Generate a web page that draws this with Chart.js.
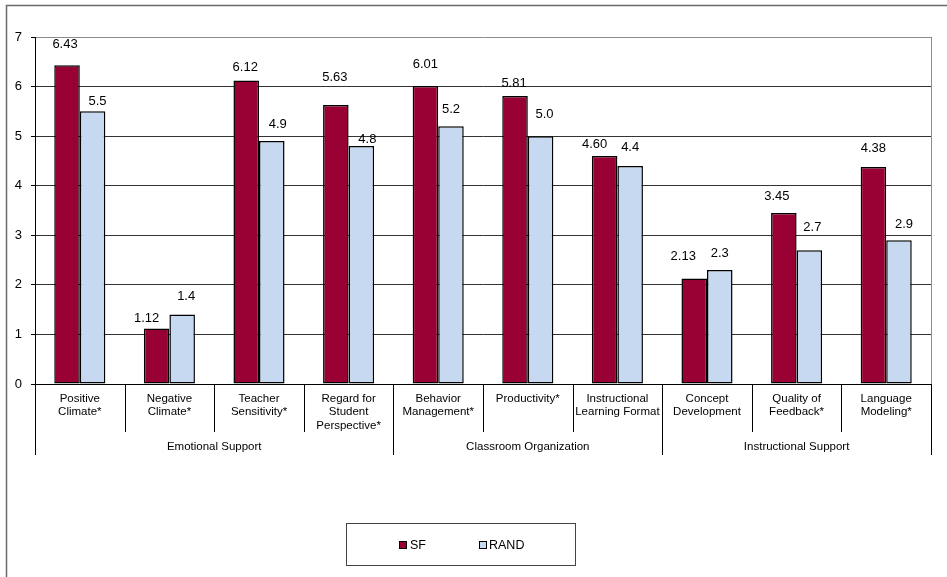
<!DOCTYPE html>
<html>
<head>
<meta charset="utf-8">
<script src="https://cdn.jsdelivr.net/npm/chart.js@4/dist/chart.umd.min.js"></script>
<style>
  html, body { margin: 0; padding: 0; background: #fff; }
  #wrap { position: relative; width: 947px; height: 577px; }
</style>
</head>
<body>
<div id="wrap"><canvas id="chart" width="947" height="577"></canvas></div>
<script>
// CLASS domain scores, SF vs. RAND
const categoryLines = [
  ['Positive', 'Climate*'],
  ['Negative', 'Climate*'],
  ['Teacher', 'Sensitivity*'],
  ['Regard for', 'Student', 'Perspective*'],
  ['Behavior', 'Management*'],
  ['Productivity*'],
  ['Instructional', 'Learning Format'],
  ['Concept', 'Development'],
  ['Quality of', 'Feedback*'],
  ['Language', 'Modeling*']
];
const sfValues   = [6.43, 1.12, 6.12, 5.63, 6.01, 5.81, 4.60, 2.13, 3.45, 4.38];
const randValues = [5.5, 1.4, 4.9, 4.8, 5.2, 5.0, 4.4, 2.3, 2.7, 2.9];
const groupNames = ['Emotional Support', 'Classroom Organization', 'Instructional Support'];
const groupSizes = [4, 3, 3];
const yTicks = [0, 1, 2, 3, 4, 5, 6, 7];

// hand-placed value label offsets (px): horizontal shift, and lift above bar top
const labelShift = {
  sf:   { dx: [-2, -10, -1, -1, 0, -1, -10, -11, -7, 0], lift: [21, 10, 13, 27, 22, 13, 12, 22, 17, 18] },
  rand: { dx: [5, 4, 6, 6, 0, 4, 0, 0, 3, 5],           lift: [10, 18, 17, 7, 17, 22, 18, 17, 23, 16] }
};

const FONT = "'Liberation Sans', Arial, Helvetica, sans-serif";
const SF_COLOR = '#990033';
const RAND_COLOR = '#C6D9F0';

const decorations = {
  id: 'decorations',
  afterDatasetsDraw(chart) {
    const ctx = chart.ctx;
    ctx.save();
    ctx.font = '13px ' + FONT;
    ctx.fillStyle = '#000';
    ctx.textAlign = 'center';
    ctx.textBaseline = 'middle';
    const keys = ['sf', 'rand'];
    chart.data.datasets.forEach((ds, di) => {
      const meta = chart.getDatasetMeta(di);
      const sh = labelShift[keys[di]];
      meta.data.forEach((bar, i) => {
        const txt = ds.data[i].toFixed(di === 0 ? 2 : 1);
        ctx.fillText(txt, bar.x + sh.dx[i], bar.y - sh.lift[i]);
      });
    });
    ctx.restore();
  },
  afterDraw(chart) {
    const ctx = chart.ctx;
    const x = chart.scales.x;
    const area = chart.chartArea;
    const n = chart.data.labels.length;
    const base = area.bottom;
    const inner = base + 48;
    const outer = base + 71;

    // plot frame (right side)
    ctx.save();
    ctx.strokeStyle = '#8c8c8c';
    ctx.lineWidth = 1;
    ctx.beginPath();
    ctx.moveTo(Math.round(area.right) + 0.5, area.top);
    ctx.lineTo(Math.round(area.right) + 0.5, base);
    ctx.stroke();

    // category and group separators under the axis
    const boundary = (i) => {
      if (i === 0) return area.left;
      if (i === n) return area.right;
      return (x.getPixelForValue(i - 1) + x.getPixelForValue(i)) / 2;
    };
    const groupEdges = new Set([0]);
    let acc = 0;
    groupSizes.forEach(s => { acc += s; groupEdges.add(acc); });
    ctx.strokeStyle = '#000';
    ctx.beginPath();
    for (let i = 0; i <= n; i++) {
      const px = Math.round(boundary(i)) + 0.5;
      ctx.moveTo(px, base);
      ctx.lineTo(px, groupEdges.has(i) ? outer : inner);
    }
    ctx.stroke();

    // group titles
    ctx.font = '11.5px ' + FONT;
    ctx.fillStyle = '#000';
    ctx.textAlign = 'center';
    ctx.textBaseline = 'middle';
    let start = 0;
    groupSizes.forEach((s, g) => {
      const cx = (boundary(start) + boundary(start + s)) / 2;
      ctx.fillText(groupNames[g], cx, base + 63);
      start += s;
    });

    // legend box
    const lx = 346.5, ly = 523.5, lw = 229, lh = 42;
    ctx.strokeStyle = '#444';
    ctx.lineWidth = 1;
    ctx.strokeRect(lx, ly, lw, lh);
    ctx.font = '12.5px ' + FONT;
    ctx.textAlign = 'left';
    const items = [{ x: 399, tx: 410 }, { x: 479, tx: 489 }];
    chart.data.datasets.forEach((ds, i) => {
      const it = items[i];
      ctx.fillStyle = ds.backgroundColor;
      ctx.fillRect(it.x, 541, 8, 8);
      ctx.strokeStyle = '#000';
      ctx.strokeRect(it.x + 0.5, 541.5, 7, 7);
      ctx.fillStyle = '#000';
      ctx.fillText(ds.label, it.tx, 545.5);
    });

    // outer frame
    ctx.strokeStyle = '#6a6a6a';
    ctx.lineWidth = 1.5;
    ctx.beginPath();
    ctx.moveTo(6.5, 577);
    ctx.lineTo(6.5, 5.5);
    ctx.lineTo(947, 5.5);
    ctx.stroke();
    ctx.restore();
  }
};

new Chart(document.getElementById('chart'), {
  type: 'bar',
  data: {
    labels: categoryLines,
    datasets: [
      { label: 'SF', data: sfValues, backgroundColor: SF_COLOR, borderColor: '#000', borderWidth: 1.5, borderSkipped: false },
      { label: 'RAND', data: randValues, backgroundColor: RAND_COLOR, borderColor: '#000', borderWidth: 1.5, borderSkipped: false }
    ]
  },
  options: {
    responsive: false,
    animation: false,
    devicePixelRatio: 1,
    layout: { padding: { top: 37, right: 16, left: 0, bottom: 0 } },
    datasets: { bar: { categoryPercentage: 0.57, barPercentage: 1.0 } },
    plugins: { legend: { display: false }, tooltip: { enabled: false } },
    scales: {
      x: {
        grid: { display: false, drawTicks: false },
        border: { display: true, color: '#000', width: 1 },
        ticks: {
          autoSkip: false, maxRotation: 0, minRotation: 0,
          padding: 8, color: '#000',
          font: { family: FONT, size: 11.5, lineHeight: 1.17 }
        },
        afterFit(scale) { scale.height = 193; }
      },
      y: {
        min: 0, max: 7,
        afterBuildTicks(scale) { scale.ticks = yTicks.map(v => ({ value: v })); },
        grid: { color: (c) => (c.tick && c.tick.value === 7 ? '#8c8c8c' : '#333'), tickColor: '#000', tickLength: 4 },
        border: { display: true, color: '#000', width: 1 },
        ticks: { padding: 9, color: '#000', font: { family: FONT, size: 13 } },
        afterFit(scale) { scale.width = 35; }
      }
    }
  },
  plugins: [decorations]
});
</script>
</body>
</html>
